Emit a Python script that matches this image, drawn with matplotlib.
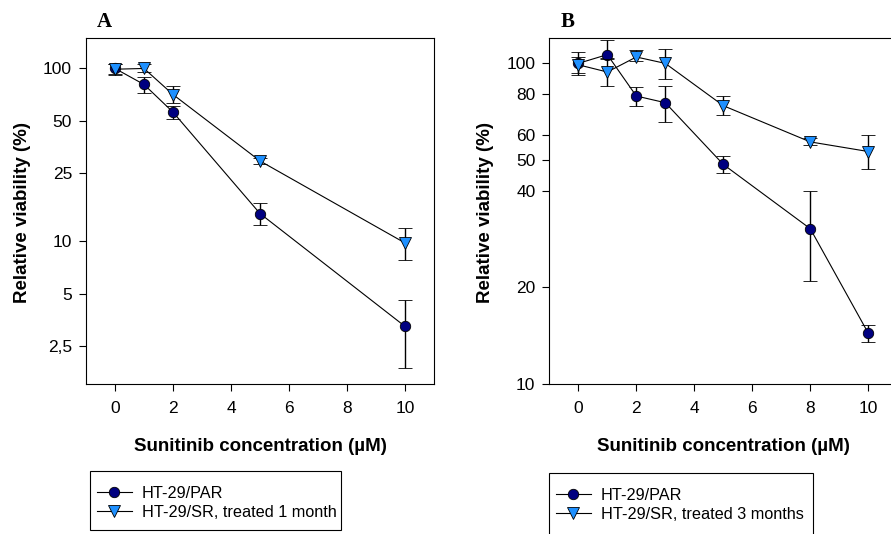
import numpy as np
import matplotlib.pyplot as plt
from matplotlib.lines import Line2D
from matplotlib.patches import Rectangle
from matplotlib.ticker import FixedLocator, FixedFormatter, NullLocator

plt.rcParams['font.family'] = ['Liberation Sans', 'DejaVu Sans']

# panel A: parental vs. 1 month sunitinib-treated cells
conc_a = [0, 1, 2, 5, 10]
par_a = [100, 80.8, 55.9, 14.5, 3.23]
par_a_lo = [91.5, 71.7, 51.0, 12.4, 1.85]
par_a_hi = [105.5, 89.4, 60.5, 16.6, 4.6]
sr_a = [99, 100, 70.7, 29.2, 9.8]
sr_a_lo = [93, 96, 62.8, 28.0, 7.8]
sr_a_hi = [105.5, 105.5, 79.3, 30.5, 11.9]

# panel B: parental vs. 3 months sunitinib-treated cells
conc_b = [0, 1, 2, 3, 5, 8, 10]
par_b = [100, 106.5, 79.1, 75.4, 48.4, 30.5, 14.4]
par_b_lo = [92.2, 103.9, 73.4, 65.8, 45.5, 21.0, 13.5]
par_b_hi = [108.2, 118.3, 84.4, 85.0, 51.3, 40.1, 15.3]
sr_b = [99, 94, 104.7, 100, 73.8, 56.9, 53.1]
sr_b_lo = [93, 84.8, 101.5, 89.6, 69.0, 55.7, 47.0]
sr_b_hi = [105, 103, 109.9, 111.1, 79.1, 58.5, 59.6]

yticks_a = [2.5, 5, 10, 25, 50, 100]
yticklabels_a = ['2,5', '5', '10', '25', '50', '100']
yticks_b = [10, 20, 40, 50, 60, 80, 100]
yticklabels_b = ['10', '20', '40', '50', '60', '80', '100']
xticks = [0, 2, 4, 6, 8, 10]

labels_a = ['HT-29/PAR', 'HT-29/SR, treated 1 month']
labels_b = ['HT-29/PAR', 'HT-29/SR, treated 3 months']

PAR_COLOR = '#000080'
SR_COLOR = '#1e90ff'
PAR_STYLE = dict(color='black', lw=0.8, marker='o', ms=7.5, mfc=PAR_COLOR,
                 mec='black', mew=0.6)
SR_STYLE = dict(color='black', lw=0.8, marker='v', ms=8, mfc=SR_COLOR,
                mec='black', mew=0.6)


def asym_err(mean, lo, hi):
    mean = np.asarray(mean)
    return [mean - np.asarray(lo), np.asarray(hi) - mean]


def draw_panel(ax, conc, par, par_lo, par_hi, sr, sr_lo, sr_hi):
    ax.errorbar(conc, par, yerr=asym_err(par, par_lo, par_hi), elinewidth=1.0,
                capsize=5, capthick=1.0, ecolor='black', zorder=2, **PAR_STYLE)
    ax.errorbar(conc, sr, yerr=asym_err(sr, sr_lo, sr_hi), elinewidth=1.0,
                capsize=5, capthick=1.0, ecolor='black', zorder=3, **SR_STYLE)
    ax.set_yscale('log')
    ax.set_xlim(-1, 11)
    ax.xaxis.set_major_locator(FixedLocator(xticks))
    ax.tick_params(direction='out', length=5, width=0.8, labelsize=12.5, pad=5)
    ax.tick_params(axis='x', pad=7)
    ax.yaxis.set_minor_locator(NullLocator())
    for s in ax.spines.values():
        s.set_linewidth(0.8)
    ax.set_xlabel('Sunitinib concentration (µM)', fontsize=13.5, fontweight='bold')
    ax.set_ylabel('Relative viability (%)', fontsize=13.5, fontweight='bold')
    ax.xaxis.set_label_coords(0.5, -0.156)
    ax.yaxis.set_label_coords(-0.158, 0.497)


fig = plt.figure(figsize=(8.91, 5.34), dpi=100)
ax_a = fig.add_axes([86 / 891, 1 - 384 / 534, 348 / 891, 346 / 534])
ax_b = fig.add_axes([549.3 / 891, 1 - 384 / 534, 348 / 891, 346 / 534])

draw_panel(ax_a, conc_a, par_a, par_a_lo, par_a_hi, sr_a, sr_a_lo, sr_a_hi)
ax_a.set_ylim(1.5, 150)
ax_a.yaxis.set_major_locator(FixedLocator(yticks_a))
ax_a.yaxis.set_major_formatter(FixedFormatter(yticklabels_a))

draw_panel(ax_b, conc_b, par_b, par_b_lo, par_b_hi, sr_b, sr_b_lo, sr_b_hi)
ax_b.set_ylim(10, 120)
ax_b.yaxis.set_major_locator(FixedLocator(yticks_b))
ax_b.yaxis.set_major_formatter(FixedFormatter(yticklabels_b))

# legends: entries without frame, box drawn separately (SigmaPlot-like padding)
leg_kw = dict(loc='upper left', fontsize=11.7, frameon=False, handlelength=2.2,
              handletextpad=0.6, borderpad=0, labelspacing=0.25,
              borderaxespad=0, bbox_transform=fig.transFigure)
boxes = ((ax_a, labels_a, 90, 471, 251, 59), (ax_b, labels_b, 549, 473, 264, 70))
for ax, labels, x0, y0, w, h in boxes:
    handles = [Line2D([], [], **PAR_STYLE), Line2D([], [], **SR_STYLE)]
    ax.legend(handles, labels, bbox_to_anchor=((x0 + 6.5) / 891, 1 - (y0 + 15) / 534),
              **leg_kw)
    fig.patches.append(Rectangle((x0 / 891, 1 - (y0 + h) / 534), w / 891, h / 534,
                                 transform=fig.transFigure, fill=False,
                                 edgecolor='black', lw=0.8))

fig.text(97 / 891, 1 - 27 / 534, 'A', fontsize=15, fontweight='bold',
         family='Liberation Serif', ha='left', va='baseline')
fig.text(561 / 891, 1 - 27 / 534, 'B', fontsize=15, fontweight='bold',
         family='Liberation Serif', ha='left', va='baseline')

fig.savefig('out.png', dpi=100)
